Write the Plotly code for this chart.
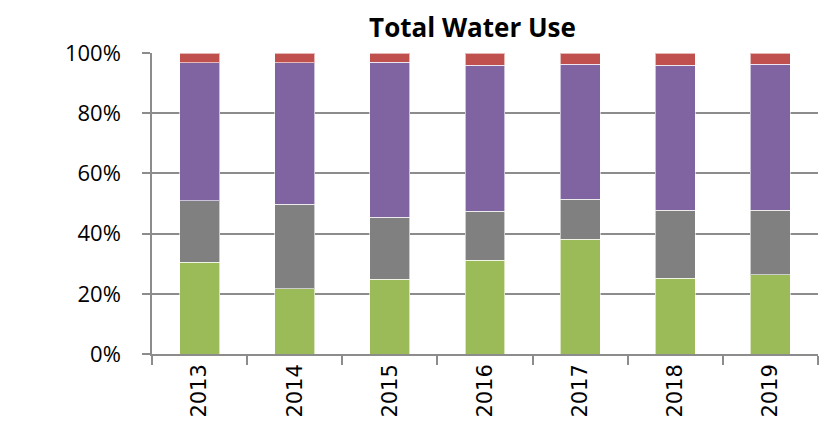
import plotly.graph_objects as go

years = ["2013", "2014", "2015", "2016", "2017", "2018", "2019"]
green_vals = [30.5, 21.6, 24.9, 31.2, 38.1, 25.2, 26.4]
gray_vals = [20.4, 28.1, 20.5, 16.2, 13.3, 22.5, 21.3]
purple_vals = [45.9, 47.1, 51.5, 48.5, 44.9, 48.2, 48.6]
red_vals = [3.2, 3.2, 3.1, 4.1, 3.7, 4.1, 3.7]

series = [
    ("Series 1", green_vals, "#9BBB59"),
    ("Series 2", gray_vals, "#808080"),
    ("Series 3", purple_vals, "#8064A2"),
    ("Series 4", red_vals, "#C0504D"),
]

fig = go.Figure()
for name, vals, col in series:
    fig.add_trace(go.Bar(
        x=years, y=vals, name=name, marker_color=col,
        marker_line=dict(color="rgba(255,255,255,0.6)", width=1),
    ))

# page body has an 8px default margin, so offsets are compensated
fig.update_layout(
    barmode="stack",
    bargap=0.58,
    width=834, height=423,
    margin=dict(l=144, r=24, t=45, b=77),
    paper_bgcolor="white", plot_bgcolor="white",
    showlegend=False,
    title=dict(text="<b>Total Water Use</b>", x=(472.5 - 8) / 834, xanchor="center",
               y=(423 - 20) / 423, yanchor="middle",
               font=dict(family="Open Sans, Liberation Sans, sans-serif", size=26, color="black")),
    font=dict(family="Liberation Sans, Arial, sans-serif", color="black"),
)
fig.update_yaxes(
    automargin=False,
    range=[0, 100], tickvals=[0, 20, 40, 60, 80, 100],
    ticktext=["0%", "20%", "40%", "60%", "80%", "100%"],
    showgrid=True, gridcolor="#8c8c8c", gridwidth=1.5,
    showline=True, linecolor="#8c8c8c", linewidth=1.5,
    ticks="outside", ticklen=8, tickcolor="#8c8c8c", tickwidth=1.5,
    ticklabelstandoff=17,
    tickfont=dict(family="Open Sans, sans-serif", size=22, color="black"),
    zeroline=False,
)
fig.update_xaxes(
    automargin=False,
    showline=True, linecolor="#8c8c8c", linewidth=1.5,
    ticks="outside", ticklen=9, tickcolor="#8c8c8c", tickwidth=1.5,
    tickson="boundaries", tickangle=-90,
    tickfont=dict(family="DejaVu Sans, sans-serif", size=21, color="black"),
)

fig.write_html("out.html")
